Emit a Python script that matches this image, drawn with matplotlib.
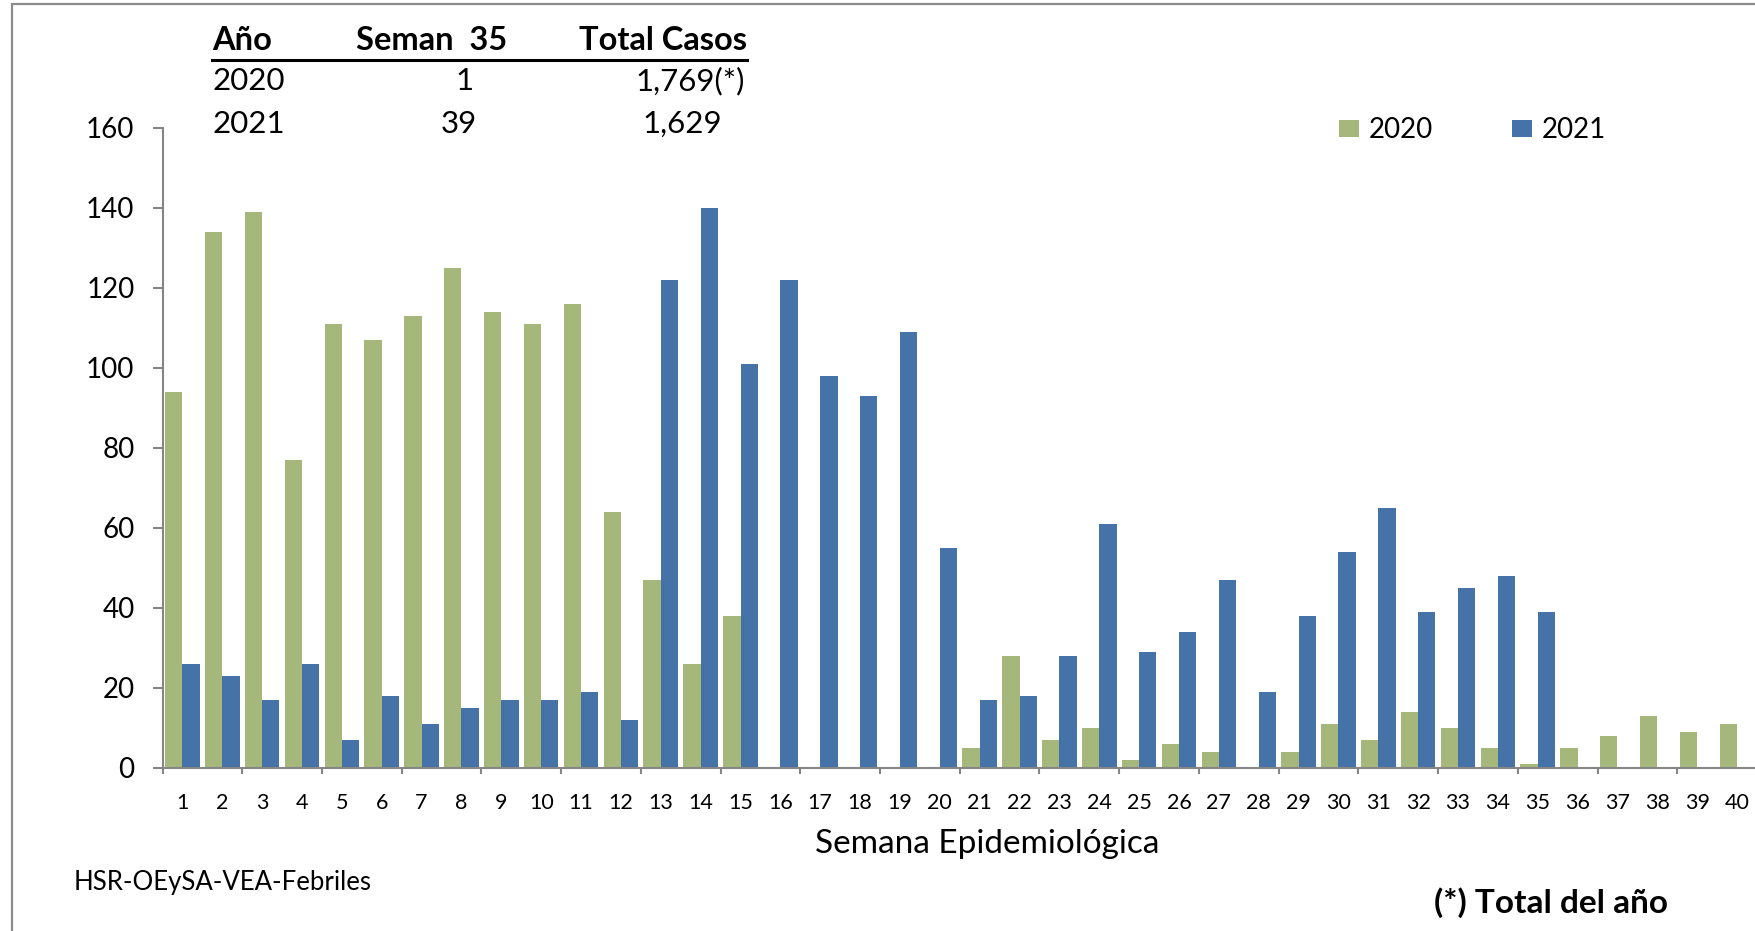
import numpy as np
import matplotlib
matplotlib.use("Agg")
import matplotlib.pyplot as plt
from matplotlib.lines import Line2D
from matplotlib.patches import Rectangle

plt.rcParams['font.family'] = ['Lato', 'DejaVu Sans']

# ---------------- data ----------------
weeks = list(range(1, 41))
cases_2020 = [94, 134, 139, 77, 111, 107, 113, 125, 114, 111, 116, 64, 47, 26, 38,
              0, 0, 0, 0, 0, 5, 28, 7, 10, 2, 6, 4, 0, 4, 11, 7, 14, 10, 5, 1,
              5, 8, 13, 9, 11]
cases_2021 = [26, 23, 17, 26, 7, 18, 11, 15, 17, 17, 19, 12, 122, 140, 101,
              122, 98, 93, 109, 55, 17, 18, 28, 61, 29, 34, 47, 19, 38, 54, 65,
              39, 45, 48, 39, 0, 0, 0, 0, 0]
series_labels = ["2020", "2021"]
table_header = ["Año", "Seman  35", "Total Casos"]
table_years = ["2020", "2021"]
table_week = ["1", "39"]
table_total = ["1,769(*)", "1,629"]
y_ticks = [0, 20, 40, 60, 80, 100, 120, 140, 160]

GREEN = "#A5B77B"
BLUE = "#4572A7"
GREY = "#868686"

W, H = 1755, 931
fig = plt.figure(figsize=(W / 100, H / 100), dpi=100)


def fx(px):
    return px / W


def fy(py):
    return 1 - py / H


# axes placement (pixel based)
left, right, bottom, top = 162.5, 1757, 767.7, 127.7
ax = fig.add_axes([fx(left), fy(bottom), fx(right) - fx(left), fy(top) - fy(bottom)])

x = np.arange(len(weeks))
bw = 0.434
ax.bar(x - bw / 2, cases_2020, width=bw, color=GREEN, linewidth=0, label=series_labels[0])
ax.bar(x + bw / 2, cases_2021, width=bw, color=BLUE, linewidth=0, label=series_labels[1])

ax.set_xlim(-0.5, len(weeks) - 0.5)
ax.set_ylim(0, 160)

for s in ['top', 'right']:
    ax.spines[s].set_visible(False)
for s in ['left', 'bottom']:
    ax.spines[s].set_color(GREY)
    ax.spines[s].set_linewidth(1.5)

ax.set_yticks(y_ticks)
ax.set_yticklabels([str(v) for v in y_ticks])
ax.tick_params(axis='y', direction='out', length=7.2, width=1.5, color=GREY,
               labelsize=20, pad=13)

# major ticks at every second category boundary, labels at minor ticks
ax.set_xticks(np.arange(-0.5, len(weeks), 2))
ax.set_xticklabels([])
ax.tick_params(axis='x', which='major', direction='out', length=4.5, width=1.5, color=GREY)
ax.set_xticks(x, minor=True)
ax.set_xticklabels([str(w) for w in weeks], minor=True)
ax.tick_params(axis='x', which='minor', length=0, labelsize=15.5, pad=18)

# legend
leg = ax.legend(ncol=2, frameon=False, loc='center left',
                bbox_to_anchor=(fx(1339), fy(130)), bbox_transform=fig.transFigure,
                fontsize=20, handlelength=0.72, handleheight=0.58,
                handletextpad=0.35, columnspacing=2.84, borderpad=0, borderaxespad=0)

# summary table at top
fs_head = 23.5
fs_tab = 22.5
fig.text(fx(212), fy(50), table_header[0], fontsize=fs_head, fontweight='bold', va='baseline', ha='left')
fig.text(fx(356), fy(50), table_header[1], fontsize=fs_head, fontweight='bold', va='baseline', ha='left')
fig.text(fx(747), fy(50), table_header[2], fontsize=fs_head, fontweight='bold', va='baseline', ha='right')
fig.add_artist(Line2D([fx(212), fx(747)], [fy(60), fy(60)], color='black', lw=2.2,
                      transform=fig.transFigure))
row_base = [90, 133]
week_cx = [465, 459]
total_cx = [690, 682]
for i in range(len(table_years)):
    fig.text(fx(212), fy(row_base[i]), table_years[i], fontsize=fs_tab, va='baseline', ha='left')
    fig.text(fx(week_cx[i]), fy(row_base[i]), table_week[i], fontsize=fs_tab, va='baseline', ha='center')
    fig.text(fx(total_cx[i]), fy(row_base[i]), table_total[i], fontsize=fs_tab, va='baseline', ha='center')

# bottom texts
t_x = fig.text(fx(987), fy(853), "Semana Epidemiológica", fontsize=24, va='baseline', ha='center')
t_x.set_clip_path(Rectangle((0, fy(859)), 1, 1, transform=fig.transFigure))
fig.text(fx(74), fy(890), "HSR-OEySA-VEA-Febriles", fontsize=18.5, va='baseline', ha='left')
fig.text(fx(1668), fy(913), "(*) Total del año", fontsize=24, fontweight='bold',
         va='baseline', ha='right')

# chart-area border (top & left visible)
fig.add_artist(Rectangle((fx(12), -0.2), 1.5, fy(4) + 0.2, fill=False, edgecolor="#8C8C8C",
                         lw=1.6, transform=fig.transFigure, clip_on=False))

fig.savefig("out.png", dpi=100)
